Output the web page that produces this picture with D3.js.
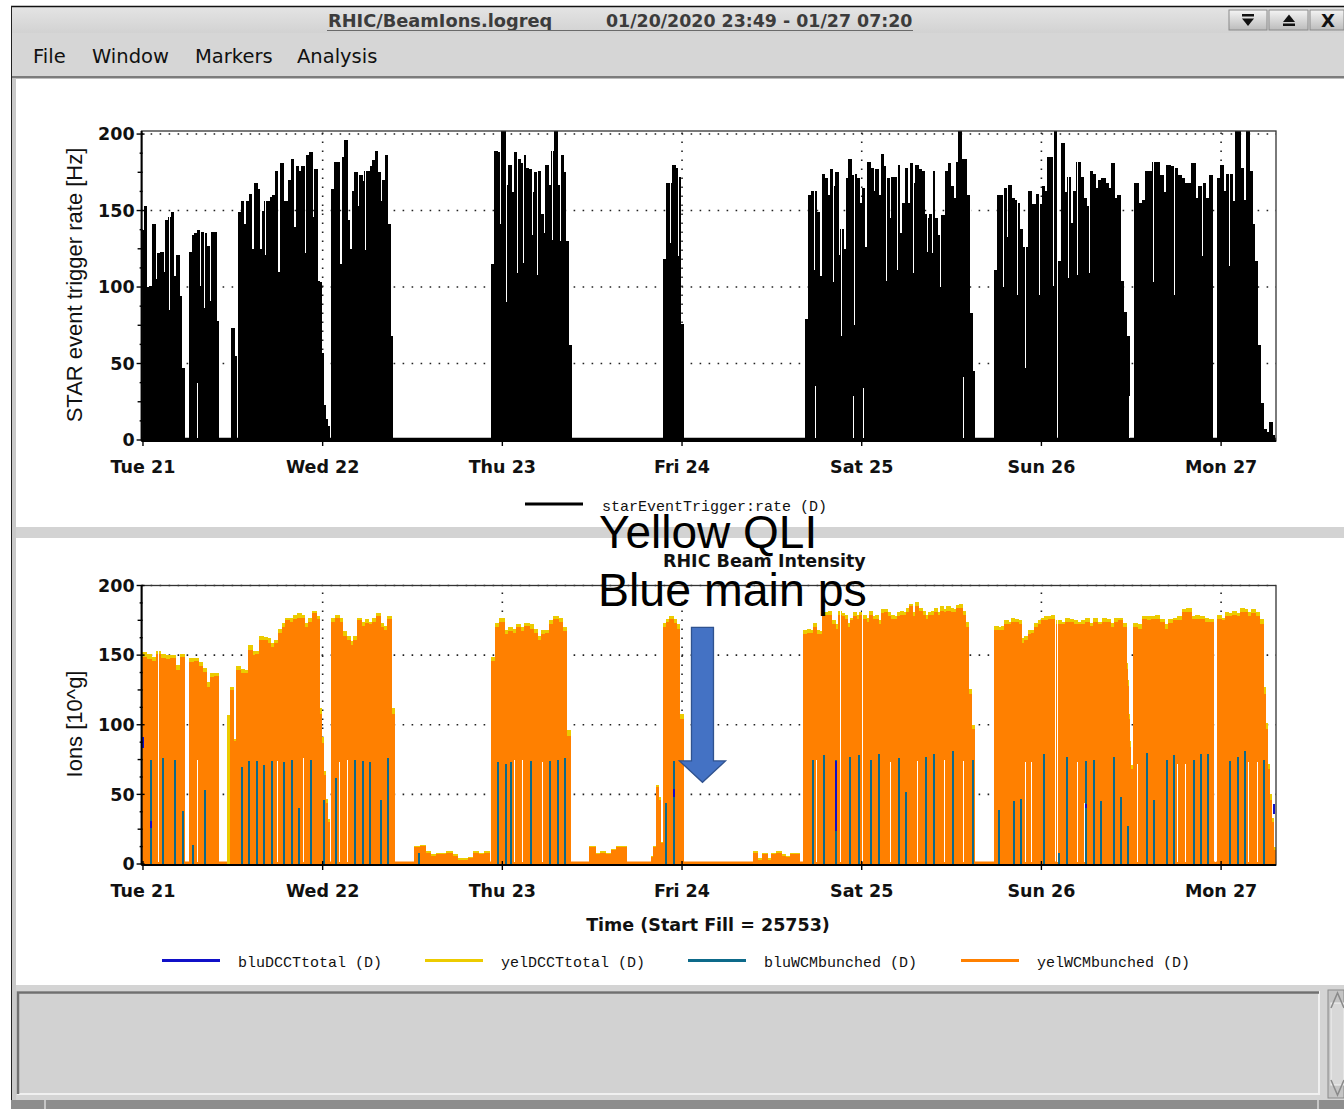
<!DOCTYPE html>
<html>
<head>
<meta charset="utf-8">
<script src="https://cdn.jsdelivr.net/npm/d3@7"></script>
<style>
body { margin: 0; background: #fff; }
svg { display: block; font-family: "DejaVu Sans", sans-serif; }
.grid { stroke: #222; stroke-width: 1.6; stroke-dasharray: 1.6 7.4; }
.lbl { font-family: "DejaVu Sans", sans-serif; font-weight: bold; font-size: 17.5px; fill: #111; }
.mono { font-family: "Liberation Mono", "DejaVu Sans Mono", monospace; font-size: 15px; fill: #111; }
.mark { shape-rendering: crispEdges; }
</style>
</head>
<body>
<svg id="chart" width="1344" height="1109"></svg>
<script>
// time is in hours from Tue 21 Jan 2020 00:00
const T0 = new Date(2020, 0, 21);
const viewStart = new Date(2020, 0, 20, 23, 49);
const viewEnd = new Date(2020, 0, 27, 7, 20);

// ---- STAR event trigger rate [Hz]: runs per stretch, [value, dip] where a short drop follows
const rateA = [137, [153, 100], 100, 101, 141, 105, 122, 123, 110, [144, 85], 146, 149, 107, 121, 94, 47];
const rateB = [123, 134, 135, 137, 101, [136, 86], 135, 127, 91, 136, 136, 78];
const rateB2 = [73, 55];
const rateC = [149, 156, 141, 156, 161, 125, 168, 164, 125, [150, 121], 156, 156, 159, 160, 176, 110, 181, 156, 156, 170, 184, 139, 179, 176, 179, 122, 186, 188, 146, 177, 104];
const rateC2 = [103, 57, 23, 14, 9];
const rateD = [164, 182, 182, 115, 185, 196, 144, 125, 163, 175, 153, 173, [169, 124], 176, 176, 179, 183, 189, 175, 156, 170, 186, 141, 68];
const rateE = [115, 189, [188, 141], 202, [202, 90], 167, 180, 162, [188, 109], 184, [181, 116], 186, 178, [177, 134], 162, [175, 108], 176, 148, 135, 180, [167, 131], 189, 202, [167, 130], 186, 175, 130, 62];
const rateF = [118, [168, 129], 168, 180, [178, 120], 172, 76];
const rateG = [79, 160, [163, 111], 163, 149, 107, 174, 171, 160, [177, 103], 166, 175, [121, 68], 138, 125, 171, 184, [173, 75], 174, [171, 155], 155, 165, 126, 182, 178, 163, 177, 160, 187, [179, 104], 171, 145, 172, [172, 111], 180, 135, 155, 178, 155, [181, 109], 168, 180, 177, 176, [148, 123], 145, [148, 122], 176, 145, [134, 100], 147, 147, 176, 181, 166, 158, 182, 202, 184, 184, [160, 111], 83, 45];
const rateH = [111, 160, [160, 100], 165, 133, 167, 158, [157, 95], 155, 138, [126, 47], 126, 163, 154, 154, [161, 95], 154, 166, 163, 185, [185, 101], 202];
const rateI = [117, 194, [162, 106], 172, 142, [163, 108], 182, 172, 158, [153, 109], 176, 174, 165, 170, 171, 168, 165, 181, 158, 160, 104, 84, 68];
const rateJ = [168, 155, 157, 176, [176, 103], 182, 182, 173, 162, 180, [179, 95], 178, 173, 171, 168, 168, 181, 158, [166, 120], 168, 158, 173];
const rateK = [171, 180, 163, [174, 114], 174, 156, 202, 202, 178, 157, 202, 176, 141, 117, 62, 24, 7, 5, 12, 3];
const rateSpans = [[-0.19, 5.57], [6.28, 10.11], [11.89, 12.51], [12.78, 23.64], [23.64, 24.98], [25.24, 33.39],
  [46.57, 57.26], [69.59, 72.17], [88.55, 111.13], [113.8, 121.95], [122.25, 131.83], [132.5, 142.91], [143.58, 151.19]];
const rateRuns = [rateA, rateB, rateB2, rateC, rateC2, rateD, rateE, rateF, rateG, rateH, rateI, rateJ, rateK];
// [hour, level] : rate briefly not reaching below level
const rateFloorGaps = [[7.17, 37], [89.8, 35], [94.87, 29], [96.12, 34], [109.56, 41], [131.73, 29]];

// ---- RHIC beam intensity [10^9]: [yelWCMbunched, yelDCCTtotal] per step
const ionA = [[149, 152], [147, 151], [146, 149], [151, 153], [148, 151], [147, 150], [148, 150], [139, 143], [149, 151]];
const ionB = [[145, 148], [146, 148], [142, 145], [138, 141], [127, 131], [134, 137], [135, 137]];
const ionB2 = [[0, 107], [125, 127], [88, 90]];
const ionC = [[139, 142], [137, 140], [137, 139], [154, 157], [150, 153], [151, 153], [161, 164], [161, 163], [159, 162], [156, 159], [159, 161], [166, 169], [170, 173], [175, 177], [174, 177], [176, 179], [177, 180], [177, 179], [170, 173], [174, 177], [180, 182], [176, 178]];
const ionC2 = [[108, 112], [87, 91], [64, 67], [44, 47], [30, 32]];
const ionD = [[174, 177], [177, 179], [174, 177], [164, 167], [161, 164], [157, 160], [161, 164], [175, 177], [171, 174], [173, 176], [172, 174], [174, 177], [178, 180], [170, 173], [168, 171], [176, 178], [108, 112]];
const ionN1 = [[12, 13], [13, 14], [8, 9], [6, 7], [7, 8], [7, 8], [8, 9], [6, 7], [3, 4], [3, 4], [4, 5], [8, 9], [7, 8], [8, 9]];
const ionE = [[146, 149], [170, 173], [174, 177], [165, 168], [167, 170], [166, 169], [170, 172], [167, 170], [171, 173], [169, 172], [166, 169], [161, 164], [165, 168], [166, 168], [172, 175], [176, 178], [174, 177], [167, 170], [92, 96]];
const ionN2 = [[12, 13], [7, 8], [8, 9], [7, 8], [10, 11], [12, 13], [12, 13]];
const ionFP = [[5, 6], [12, 13], [55, 57], [46, 48], [15, 16]];
const ionF = [[170, 173], [174, 176], [176, 178], [173, 176], [169, 172], [104, 108]];
const ionN3 = [[8, 9], [3, 4], [7, 8], [3, 4], [7, 8], [8, 9], [6, 7], [5, 6], [7, 8], [7, 8]];
const ionG = [[165, 168], [166, 169], [166, 168], [170, 173], [165, 168], [165, 167], [178, 181], [179, 181], [179, 182], [172, 175], [169, 172], [179, 182], [178, 180], [176, 179], [170, 173], [175, 177], [178, 181], [176, 179], [179, 181], [176, 179], [174, 177], [179, 182], [176, 178], [176, 179], [172, 175], [180, 183], [181, 183], [178, 181], [176, 179], [176, 178], [178, 181], [179, 182], [179, 181], [181, 184], [185, 187], [178, 181], [185, 188], [182, 184], [179, 182], [176, 179], [179, 181], [179, 182], [181, 184], [179, 181], [182, 185], [181, 183], [182, 185], [181, 184], [181, 183], [184, 186], [184, 187], [179, 182], [170, 174], [122, 126], [97, 100]];
const ionH = [[168, 171], [168, 170], [168, 171], [172, 175], [172, 174], [174, 177], [174, 176], [172, 175], [159, 162], [161, 164], [165, 168], [166, 168], [170, 173], [172, 175], [175, 177], [175, 178], [176, 178], [176, 179]];
const ionI = [[172, 175], [172, 174], [174, 177], [174, 176], [172, 175], [172, 174], [172, 175], [174, 177], [171, 173], [174, 177], [172, 174], [174, 177], [174, 176], [170, 173], [174, 177], [175, 177], [170, 173]];
const ionI2 = [[140, 144], [128, 132], [104, 108], [84, 88], [68, 71]];
const ionJ = [[170, 173], [169, 172], [176, 178], [175, 178], [176, 178], [176, 179], [174, 176], [169, 172], [173, 176], [175, 177], [175, 178], [181, 183], [181, 184], [176, 178], [176, 179], [176, 178], [174, 177], [174, 176]];
const ionK = [[176, 179], [175, 177], [178, 181], [178, 180], [179, 182], [178, 180], [181, 184], [181, 183], [178, 181], [180, 183], [178, 181], [172, 176]];
const ionK2 = [[122, 127], [97, 101], [68, 72], [46, 50], [30, 33], [10, 12]];
const ionSpans = [[-0.19, 5.61], [6.28, 10.06], [11.29, 12.42], [12.55, 23.64], [23.64, 24.98], [25.2, 33.66],
  [36.3, 46.3], [46.57, 57.12], [59.7, 64.64], [67.95, 69.47], [69.49, 72.17], [81.5, 87.7], [88.28, 111.12],
  [113.8, 121.8], [122.07, 131.4], [131.4, 132.1], [132.27, 142.95], [143.54, 149.6], [149.6, 151.33]];
const ionRuns = [ionA, ionB, ionB2, ionC, ionC2, ionD, ionN1, ionE, ionN2, ionFP, ionF, ionN3, ionG, ionH, ionI, ionI2, ionJ, ionK, ionK2];

// [hour, level] yellow WCM drops to zero (level 200 = full dump)
const yelDrops = [[2.04, 200], [7.17, 75], [17.86, 74], [21.33, 76], [26.22, 73], [27.29, 75], [30.22, 38], [49.59, 75], [50.58, 75], [53.25, 73],
  [89.89, 75], [93.09, 200], [95.99, 200], [99.77, 73], [103.33, 74], [107.02, 75], [109.56, 74], [117.8, 73], [118.56, 73], [122.03, 200],
  [124.7, 73], [125.68, 44], [132.72, 72], [138.14, 72], [139.17, 72], [143.2, 200], [147.63, 73], [148.75, 73]];
// [hour, level] bluWCMbunched showing through
const bluWcm = [[0.94, 75], [2.54, 76], [4.14, 75], [5.17, 38], [6.54, 14], [8.15, 53], [13.05, 70], [14.02, 74], [15.09, 74], [16.03, 71],
  [17.06, 74], [18.66, 73], [19.77, 75], [20.7, 40], [22.3, 75], [24.0, 46], [25.64, 62], [28.18, 75], [29.21, 74], [30.18, 73], [31.65, 46],
  [32.59, 76], [36.73, 8], [47.35, 73], [48.35, 72], [49.02, 73], [51.69, 74], [54.27, 74], [55.25, 75], [56.23, 76], [69.72, 44], [70.83, 74],
  [89.31, 75], [90.86, 78], [92.42, 75], [94.33, 77], [95.53, 78], [97.09, 75], [98.13, 79], [100.8, 76], [101.77, 52], [104.44, 77],
  [105.47, 79], [108.01, 81], [110.68, 75], [114.15, 39], [116.16, 45], [117.13, 47], [120.16, 79], [122.25, 8], [123.24, 77], [125.81, 74],
  [126.84, 75], [127.82, 45], [129.51, 77], [130.49, 48], [131.46, 27], [133.92, 80], [134.94, 46], [136.59, 75], [137.53, 78], [140.2, 75],
  [141.17, 79], [142.15, 79], [145.09, 74], [146.08, 77], [147.09, 81], [149.63, 75]];
// [hour, from, to] bluDCCTtotal pieces that are visible
const bluDcct = [[-0.1, 83, 91], [0.94, 26, 31], [70.83, 48, 54], [92.42, 24, 74], [125.81, 40, 43], [150.9, 36, 43]];

const yTicks = [0, 50, 100, 150, 200];
const ionLegend = ["bluDCCTtotal (D)", "yelDCCTtotal (D)", "bluWCMbunched (D)", "yelWCMbunched (D)"];
const ionColors = ["#1010c8", "#eccb00", "#0d6a8a", "#ff8000"];

const hrs = (h) => new Date(T0.getTime() + h * 3600e3);
const svg = d3.select("#chart");

const x = d3.scaleTime().domain([viewStart, viewEnd]).range([141.6, 1276]);
const yTop = d3.scaleLinear().domain([0, 202]).range([440, 131]);
const yBot = d3.scaleLinear().domain([0, 200]).range([864, 585.5]);
const [X0, X1] = x.range();

// ---------- window chrome
const defs = svg.append("defs");
const tg = defs.append("linearGradient").attr("id", "tbar").attr("x1", 0).attr("x2", 0).attr("y1", 0).attr("y2", 1);
tg.append("stop").attr("offset", "0%").attr("stop-color", "#e4e4e4");
tg.append("stop").attr("offset", "100%").attr("stop-color", "#d2d2d2");
const bg = defs.append("linearGradient").attr("id", "btn").attr("x1", 0).attr("x2", 0).attr("y1", 0).attr("y2", 1);
bg.append("stop").attr("offset", "0%").attr("stop-color", "#f4f4f4");
bg.append("stop").attr("offset", "100%").attr("stop-color", "#bcbcbc");

svg.append("rect").attr("x", 12).attr("y", 7).attr("width", 1332).attr("height", 26).attr("fill", "url(#tbar)");
svg.append("line").attr("x1", 11).attr("x2", 1344).attr("y1", 6.5).attr("y2", 6.5).attr("stroke", "#111").attr("stroke-width", 1.5);
svg.append("text").attr("x", 328).attr("y", 27).attr("font-weight", "bold").attr("font-size", 17.8).attr("fill", "#3c3c3c")
  .text("RHIC/BeamIons.logreq");
svg.append("text").attr("x", 606).attr("y", 27).attr("font-weight", "bold").attr("font-size", 17.4).attr("fill", "#3c3c3c")
  .text("01/20/2020 23:49 - 01/27 07:20");
svg.append("line").attr("x1", 327).attr("x2", 913).attr("y1", 30.5).attr("y2", 30.5).attr("stroke", "#6a6a6a").attr("stroke-width", 1);
[[1229, 38], [1269, 39], [1310, 34]].forEach(([bx, bw]) => {
  svg.append("rect").attr("x", bx).attr("y", 10).attr("width", bw).attr("height", 20)
    .attr("fill", "url(#btn)").attr("stroke", "#8a8a8a");
});
svg.append("rect").attr("x", 1242).attr("y", 14).attr("width", 12).attr("height", 2.5).attr("fill", "#111");
svg.append("path").attr("d", "M1242,18.5 L1254,18.5 L1248,26 Z").attr("fill", "#111");
svg.append("path").attr("d", "M1283,22 L1295,22 L1289,14.5 Z").attr("fill", "#111");
svg.append("rect").attr("x", 1283).attr("y", 23.5).attr("width", 12).attr("height", 2.5).attr("fill", "#111");
svg.append("text").attr("x", 1328).attr("y", 27).attr("text-anchor", "middle").attr("font-weight", "bold")
  .attr("font-size", 18).attr("fill", "#111").text("X");

svg.append("rect").attr("x", 12).attr("y", 33).attr("width", 1332).attr("height", 44).attr("fill", "#d6d6d6");
svg.append("rect").attr("x", 12).attr("y", 76).attr("width", 1332).attr("height", 2.5).attr("fill", "#7c7c7c");
[["File", 33], ["Window", 92], ["Markers", 195], ["Analysis", 297]].forEach(([t, mx]) => {
  svg.append("text").attr("x", mx).attr("y", 63).attr("font-size", 19.5).attr("fill", "#111").text(t);
});

svg.append("rect").attr("x", 11).attr("y", 78.5).attr("width", 5).attr("height", 1022).attr("fill", "#c9c9c9");
svg.append("line").attr("x1", 11.5).attr("x2", 11.5).attr("y1", 6).attr("y2", 1109).attr("stroke", "#222").attr("stroke-width", 1);
svg.append("rect").attr("x", 16).attr("y", 527).attr("width", 1328).attr("height", 11).attr("fill", "#d3d3d3");

svg.append("rect").attr("x", 16).attr("y", 985).attr("width", 1328).attr("height", 115).attr("fill", "#d4d4d4");
svg.append("rect").attr("x", 18).attr("y", 992).attr("width", 1301).attr("height", 102).attr("fill", "#d2d2d2")
  .attr("stroke", "#f0f0f0").attr("stroke-width", 2);
svg.append("path").attr("d", "M18,1094 L18,992.5 L1319,992.5").attr("fill", "none").attr("stroke", "#707070").attr("stroke-width", 2.5);
svg.append("rect").attr("x", 1328).attr("y", 990).attr("width", 16).attr("height", 108).attr("fill", "#c4c4c4").attr("stroke", "#8a8a8a");
svg.append("rect").attr("x", 1331).attr("y", 1003).attr("width", 13).attr("height", 82).attr("fill", "#d8d8d8").attr("stroke", "#f2f2f2");
svg.append("path").attr("d", "M1331,1008 L1337.5,993 L1344,1008").attr("fill", "none").attr("stroke", "#8a8a8a").attr("stroke-width", 1.5);
svg.append("path").attr("d", "M1331,1080 L1337.5,1095 L1344,1080").attr("fill", "none").attr("stroke", "#8a8a8a").attr("stroke-width", 1.5);
svg.append("rect").attr("x", 11).attr("y", 1100).attr("width", 1333).attr("height", 9).attr("fill", "#8d8d8d");
[45, 1318].forEach((dx) => svg.append("line").attr("x1", dx).attr("x2", dx).attr("y1", 1100).attr("y2", 1109)
  .attr("stroke", "#d8d8d8").attr("stroke-width", 1.5));

// ---------- helpers
function drawGrid(y) {
  const g = svg.append("g");
  [50, 100, 150, 200].forEach((v) => g.append("line").attr("class", "grid")
    .attr("x1", X0).attr("x2", X1).attr("y1", y(v)).attr("y2", y(v)));
  x.ticks(d3.timeDay.every(1)).slice(1).forEach((d) => g.append("line").attr("class", "grid")
    .attr("x1", x(d)).attr("x2", x(d)).attr("y1", y(0)).attr("y2", y(y.domain()[1])));
}

function drawFrame(y, boxTop) {
  const g = svg.append("g");
  const y0 = y(0);
  g.append("rect").attr("x", X0).attr("y", boxTop).attr("width", X1 - X0).attr("height", y0 + 1 - boxTop)
    .attr("fill", "none").attr("stroke", "#333").attr("stroke-width", 1.3);
  g.append("line").attr("x1", X0).attr("x2", X0).attr("y1", boxTop).attr("y2", y0 + 1).attr("stroke", "#000").attr("stroke-width", 2);
  g.append("line").attr("x1", X0).attr("x2", X1).attr("y1", y0 + 1).attr("y2", y0 + 1).attr("stroke", "#000").attr("stroke-width", 2);
  d3.range(0, 200.1, 12.5).forEach((v) => {
    const len = v % 50 === 0 ? 5 : v % 25 === 0 ? 4 : 2;
    g.append("line").attr("x1", X0 - len).attr("x2", X0 + (v % 50 === 0 ? 3 : 1)).attr("y1", y(v)).attr("y2", y(v))
      .attr("stroke", "#000").attr("stroke-width", 1.4);
  });
  yTicks.forEach((v) => g.append("text").attr("class", "lbl").attr("x", X0 - 7).attr("y", y(v))
    .attr("dy", "0.36em").attr("text-anchor", "end").text(v));
  x.ticks(d3.timeDay.every(1)).forEach((d) => {
    g.append("line").attr("x1", x(d)).attr("x2", x(d)).attr("y1", y0 - 3).attr("y2", y0 + 6)
      .attr("stroke", "#000").attr("stroke-width", 1.4);
    g.append("text").attr("class", "lbl").attr("x", x(d)).attr("y", y0 + 27).attr("dy", "0.36em")
      .attr("text-anchor", "middle").text(d3.timeFormat("%a %d")(d));
  });
}

// one filled step per run, snapped to whole pixels so neighbours touch
function stepRects(g, span, runs, y, pick, color) {
  const [t0, t1] = span;
  const w = (t1 - t0) / runs.length;
  runs.forEach((r, i) => {
    const v = pick(r);
    if (v == null || v <= 0) return;
    const xa = Math.floor(x(hrs(t0 + i * w))), xb = Math.ceil(x(hrs(t0 + (i + 1) * w)));
    const yt = Math.round(y(v));
    g.append("rect").attr("class", "mark").attr("x", xa).attr("y", yt).attr("width", Math.max(1, xb - xa))
      .attr("height", Math.round(y(0)) - yt).attr("fill", color);
  });
}

function gapLine(g, h, yA, yB, color, w) {
  const px = Math.round(x(hrs(h)));
  g.append("rect").attr("class", "mark").attr("x", px).attr("y", Math.round(yA))
    .attr("width", w).attr("height", Math.max(1, Math.round(yB) - Math.round(yA))).attr("fill", color);
}

// ---------- top chart: STAR event trigger rate
drawGrid(yTop);
const gTop = svg.append("g");
gTop.append("line").attr("x1", X0).attr("x2", X1).attr("y1", yTop(0) - 1).attr("y2", yTop(0) - 1)
  .attr("stroke", "#000").attr("stroke-width", 2.5);
rateRuns.forEach((runs, k) => {
  stepRects(gTop, rateSpans[k], runs, yTop, (r) => Array.isArray(r) ? r[0] : r, "#000");
  const [t0, t1] = rateSpans[k];
  const w = (t1 - t0) / runs.length;
  runs.forEach((r, i) => {
    if (!Array.isArray(r)) return;
    const next = runs[i + 1];
    const hi = Math.max(r[0], next == null ? 0 : (Array.isArray(next) ? next[0] : next));
    gapLine(gTop, t0 + (i + 1) * w, yTop(hi) - 1, yTop(r[1]), "#fff", 1);
  });
});
rateFloorGaps.forEach(([h, v]) => gapLine(gTop, h, yTop(v), yTop(0) - 2, "#fff", 1));
drawFrame(yTop, 131);

svg.append("text").attr("transform", "translate(82,285) rotate(-90)").attr("text-anchor", "middle")
  .attr("font-family", "Liberation Sans, Arial, sans-serif").attr("font-size", 22).attr("fill", "#111")
  .text("STAR event trigger rate [Hz]");
svg.append("line").attr("x1", 525).attr("x2", 583).attr("y1", 504).attr("y2", 504).attr("stroke", "#000").attr("stroke-width", 3);
svg.append("text").attr("class", "mono").attr("x", 602).attr("y", 511).text("starEventTrigger:rate (D)");

// ---------- bottom chart: RHIC beam intensity
drawGrid(yBot);
const gBot = svg.append("g");
gBot.append("line").attr("x1", X0).attr("x2", X1).attr("y1", yBot(0) - 1).attr("y2", yBot(0) - 1)
  .attr("stroke", ionColors[3]).attr("stroke-width", 3);
ionRuns.forEach((runs, k) => stepRects(gBot, ionSpans[k], runs, yBot, (r) => r[1], ionColors[1]));
ionRuns.forEach((runs, k) => stepRects(gBot, ionSpans[k], runs, yBot, (r) => r[0], ionColors[3]));
yelDrops.forEach(([h, v]) => gapLine(gBot, h, yBot(v), yBot(0) - 2, "#fff", 1));
bluWcm.forEach(([h, v]) => gapLine(gBot, h, yBot(v), yBot(0), ionColors[2], 2));
bluDcct.forEach(([h, a, b]) => gapLine(gBot, h, yBot(b), yBot(a), ionColors[0], 2));
drawFrame(yBot, 585.5);

svg.append("text").attr("transform", "translate(82,724) rotate(-90)").attr("text-anchor", "middle")
  .attr("font-family", "Liberation Sans, Arial, sans-serif").attr("font-size", 22).attr("fill", "#111")
  .text("Ions [10^g]");
svg.append("text").attr("class", "lbl").attr("x", 663).attr("y", 567).text("RHIC Beam Intensity");
svg.append("text").attr("class", "lbl").attr("x", 708).attr("y", 931).attr("text-anchor", "middle")
  .text("Time (Start Fill = 25753)");

const legX = [162, 425, 688, 961];
ionLegend.forEach((name, i) => {
  svg.append("line").attr("x1", legX[i]).attr("x2", legX[i] + 58).attr("y1", 960.5).attr("y2", 960.5)
    .attr("stroke", ionColors[i]).attr("stroke-width", 3);
  svg.append("text").attr("class", "mono").attr("x", legX[i] + 76).attr("y", 967).text(name);
});

// ---------- overlay annotation
const ann = svg.append("g").attr("font-family", "Liberation Sans, Arial, sans-serif").attr("fill", "#000");
ann.append("text").attr("x", 599).attr("y", 548).attr("font-size", 46).text("Yellow QLI");
ann.append("text").attr("x", 598).attr("y", 606).attr("font-size", 46.5).text("Blue main ps");
const ax = x(hrs(74.73));
const aTop = yBot(170), aNeck = yBot(74), aTip = yBot(58.7);
ann.append("path")
  .attr("d", `M${ax - 11},${aTop} L${ax + 11},${aTop} L${ax + 11},${aNeck} L${ax + 23},${aNeck} L${ax},${aTip} L${ax - 23},${aNeck} L${ax - 11},${aNeck} Z`)
  .attr("fill", "#4472c4").attr("stroke", "#2f528f").attr("stroke-width", 1.3);
</script>
</body>
</html>
